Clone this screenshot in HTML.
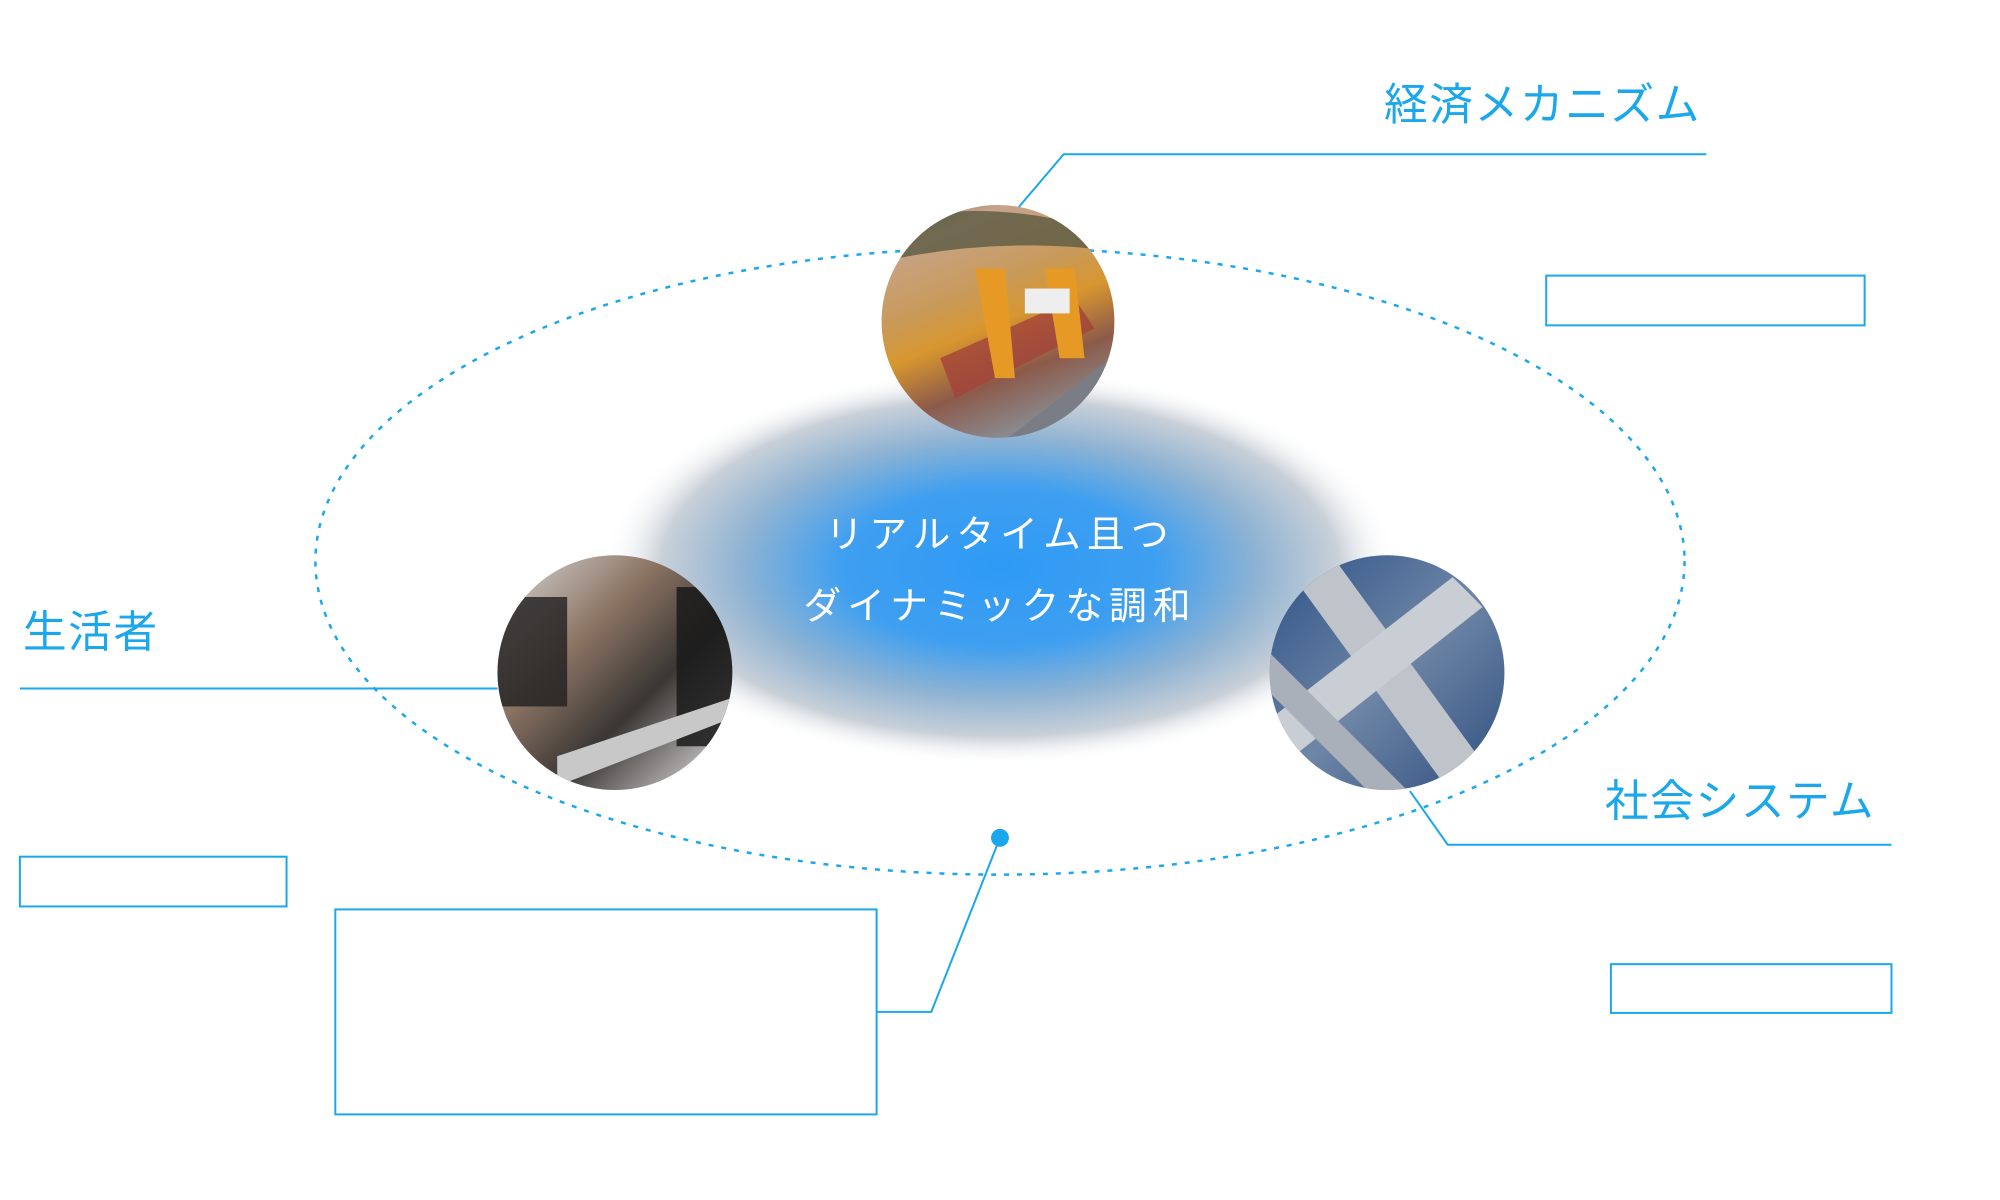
<!DOCTYPE html>
<html><head><meta charset="utf-8"><style>
html,body{margin:0;padding:0;background:#fff;}
svg{display:block}
text{font-family:"Liberation Sans","Noto Sans CJK JP",sans-serif;}
</style></head><body>
<svg width="2000" height="1200" viewBox="0 0 2000 1200" xmlns="http://www.w3.org/2000/svg">
<defs>
<radialGradient id="blob" cx="50%" cy="50%" r="50%">
<stop offset="0" stop-color="#2e9af5"/>
<stop offset="0.4" stop-color="#3f9ff0"/>
<stop offset="0.65" stop-color="#8fb3d3"/>
<stop offset="0.85" stop-color="#c9d0d8"/>
<stop offset="1" stop-color="#ffffff" stop-opacity="0"/>
</radialGradient>
<linearGradient id="port" x1="0" y1="0" x2="0.4" y2="1">
<stop offset="0" stop-color="#6b6a4e"/>
<stop offset="0.2" stop-color="#c7a48a"/>
<stop offset="0.45" stop-color="#c89a5a"/>
<stop offset="0.6" stop-color="#d8962f"/>
<stop offset="0.8" stop-color="#8c5a4a"/>
<stop offset="1" stop-color="#8a8a8e"/>
</linearGradient>
<linearGradient id="people" x1="0" y1="0" x2="1" y2="1">
<stop offset="0" stop-color="#dfe0e2"/>
<stop offset="0.35" stop-color="#8b7463"/>
<stop offset="0.6" stop-color="#3a3634"/>
<stop offset="0.85" stop-color="#b9b7b6"/>
<stop offset="1" stop-color="#55606d"/>
</linearGradient>
<linearGradient id="road" x1="0" y1="0" x2="1" y2="1">
<stop offset="0" stop-color="#2b4f86"/>
<stop offset="0.5" stop-color="#6e86a6"/>
<stop offset="1" stop-color="#2a4a7c"/>
</linearGradient>
<clipPath id="c1"><circle cx="1003" cy="323" r="117"/></clipPath>
<clipPath id="c2"><circle cx="618" cy="676" r="118"/></clipPath>
<clipPath id="c3"><circle cx="1394" cy="676" r="118"/></clipPath>
</defs>
<g transform="scale(0.995)">
<ellipse cx="1005" cy="570" rx="400" ry="200" fill="url(#blob)"/>
<ellipse cx="1005" cy="564" rx="688" ry="315" fill="none" stroke="#1aa7ec" stroke-width="2.5" stroke-dasharray="5 8"/>

<g clip-path="url(#c1)">
<rect x="880" y="200" width="250" height="250" fill="url(#port)"/>
<path d="M900 220 Q1000 200 1100 230 L1100 250 Q1000 240 900 260Z" fill="#5b5a44" opacity="0.8"/>
<path d="M945 360 L1080 300 L1100 330 L960 400Z" fill="#a3433a" opacity="0.8"/>
<path d="M980 270 L1010 270 L1020 380 L1000 380Z" fill="#e69a25"/>
<path d="M1050 270 L1080 270 L1090 360 L1065 360Z" fill="#e69a25"/>
<rect x="1030" y="290" width="45" height="25" fill="#eee"/>
<path d="M1000 450 L1130 350 L1130 450Z" fill="#7a7d86"/>
</g>
<g clip-path="url(#c2)">
<rect x="495" y="555" width="250" height="250" fill="url(#people)"/>
<rect x="500" y="600" width="70" height="110" fill="#1f1f1f" opacity="0.8"/>
<rect x="680" y="590" width="60" height="160" fill="#1a1a1a" opacity="0.85"/>
<path d="M560 760 L740 700 L740 720 L560 790Z" fill="#c8c8c8"/>
</g>
<g clip-path="url(#c3)">
<rect x="1270" y="555" width="250" height="250" fill="url(#road)"/>
<path d="M1300 580 L1340 560 L1500 780 L1460 800Z" fill="#bfc4cb"/>
<path d="M1280 720 L1460 580 L1490 610 L1300 760Z" fill="#c9ced5"/>
<path d="M1270 650 L1420 800 L1390 810 L1270 690Z" fill="#a9b0ba"/>
</g>

<g fill="none" stroke="#1aa7ec" stroke-width="2">
<polyline points="1024,208 1069,155 1715,155"/>
<polyline points="20,692 500,692"/>
<polyline points="1417,795 1455,849 1901,849"/>
<polyline points="1005,842 936,1017 881,1017"/>
<rect x="1554" y="277" width="320" height="50"/>
<rect x="20" y="861" width="268" height="50"/>
<rect x="1619" y="969" width="282" height="49"/>
<rect x="337" y="914" width="544" height="206"/>
</g>
<circle cx="1005" cy="842" r="9" fill="#1aa7ec"/>

<g fill="#1aa7ec" font-size="44" letter-spacing="1.5">
<text x="1391" y="120">経済メカニズム</text>
<text x="23" y="650">生活者</text>
<text x="1613" y="820">社会システム</text>
</g>
<g fill="#ffffff" font-size="38" text-anchor="middle" letter-spacing="6">
<text x="1005" y="550">リアルタイム且つ</text>
<text x="1005" y="622">ダイナミックな調和</text>
</g>
</g>
</svg>
</body></html>
